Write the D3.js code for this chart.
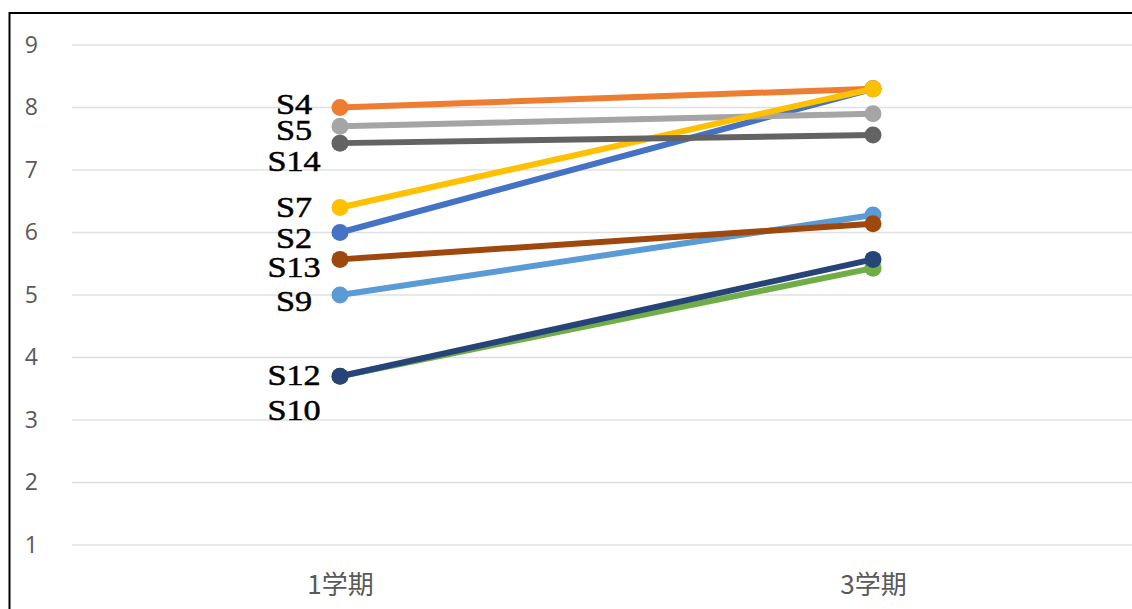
<!DOCTYPE html>
<html>
<head>
<meta charset="utf-8">
<script src="https://cdn.jsdelivr.net/npm/d3@7"></script>
<style>
  html, body { margin: 0; padding: 0; background: #fff; }
  svg { display: block; }
</style>
</head>
<body>
<svg id="chart" width="1132" height="609"></svg>
<script>
// Terms on the x axis
const terms = ["1学期", "3学期"];
// Students, in drawing order
const students = ["S2", "S4", "S5", "S7", "S9", "S10", "S12", "S13", "S14"];
// Scores for term 1 and term 3
const term1 = [6.0, 8.0, 7.7, 6.4, 5.0, 3.7, 3.7, 5.57, 7.43];
const term3 = [8.3, 8.3, 7.9, 8.3, 6.28, 5.43, 5.57, 6.14, 7.56];
const colors = ["#4472C4", "#ED7D31", "#A5A5A5", "#FFC000", "#5B9BD5", "#70AD47", "#264478", "#9E480E", "#636363"];
const yTicks = [1, 2, 3, 4, 5, 6, 7, 8, 9];

const svg = d3.select("#chart");

// frame
svg.append("line").attr("x1", 9).attr("x2", 1132).attr("y1", 13).attr("y2", 13)
  .attr("stroke", "#000").attr("stroke-width", 2);
svg.append("line").attr("x1", 9.5).attr("x2", 9.5).attr("y1", 12).attr("y2", 609)
  .attr("stroke", "#000").attr("stroke-width", 2);

const x = d3.scalePoint().domain(terms).range([340, 873]);
const y = d3.scaleLinear().domain([1, 9]).range([545, 45]);

// gridlines
svg.append("g").selectAll("line").data(yTicks).join("line")
  .attr("x1", 72).attr("x2", 1132)
  .attr("y1", d => y(d)).attr("y2", d => y(d))
  .attr("stroke", "#E0E0E0").attr("stroke-width", 1.5);

// y axis labels
const yAxis = d3.axisLeft(y).tickValues(yTicks).tickSize(0).tickPadding(0).tickFormat(d3.format("d"));
svg.append("g").attr("transform", "translate(38,0)").call(yAxis)
  .call(g => g.select(".domain").remove())
  .call(g => g.attr("font-size", null).attr("font-family", null))
  .call(g => g.selectAll("text")
    .attr("fill", "#595959")
    .style("font-size", "23px")
    .style("font-family", "'Open Sans', 'Noto Sans', sans-serif"));

// x axis labels
const xAxis = d3.axisBottom(x).tickSize(0).tickPadding(0);
svg.append("g").attr("transform", "translate(0,576)").call(xAxis)
  .call(g => g.select(".domain").remove())
  .call(g => g.attr("font-size", null).attr("font-family", null))
  .call(g => g.selectAll("text")
    .attr("fill", "#595959")
    .style("font-size", "26px")
    .style("font-family", "'Noto Sans CJK JP', 'Noto Sans', sans-serif"));

const series = students.map((s, i) => ({
  name: s, color: colors[i],
  values: [{ t: terms[0], v: term1[i] }, { t: terms[1], v: term3[i] }]
}));

const line = d3.line().x(d => x(d.t)).y(d => y(d.v));

const sg = svg.append("g").selectAll("g").data(series).join("g");
sg.append("path")
  .attr("d", d => line(d.values))
  .attr("fill", "none").attr("stroke", d => d.color)
  .attr("stroke-width", 6).attr("stroke-linecap", "round");
sg.selectAll("circle").data(d => d.values.map(v => ({ ...v, color: d.color }))).join("circle")
  .attr("cx", d => x(d.t)).attr("cy", d => y(d.v)).attr("r", 8.5)
  .attr("fill", d => d.color);

// name labels beside the first term, nudged apart where points crowd
const nudge = { S4: -4, S5: 4, S14: 18, S7: -1, S2: 5, S13: 7, S9: 6, S12: -1, S10: 34 };
svg.append("g").selectAll("text").data(series).join("text")
  .attr("transform", d => `translate(294,${y(d.values[0].v) + nudge[d.name]}) scale(1.18,1)`)
  .attr("dy", "0.35em")
  .attr("text-anchor", "middle")
  .style("font-family", "'Liberation Serif', 'DejaVu Serif', serif")
  .style("font-size", "29px")
  .attr("fill", "#000")
  .attr("stroke", "#000").attr("stroke-width", 0.5)
  .text(d => d.name);
</script>
</body>
</html>
